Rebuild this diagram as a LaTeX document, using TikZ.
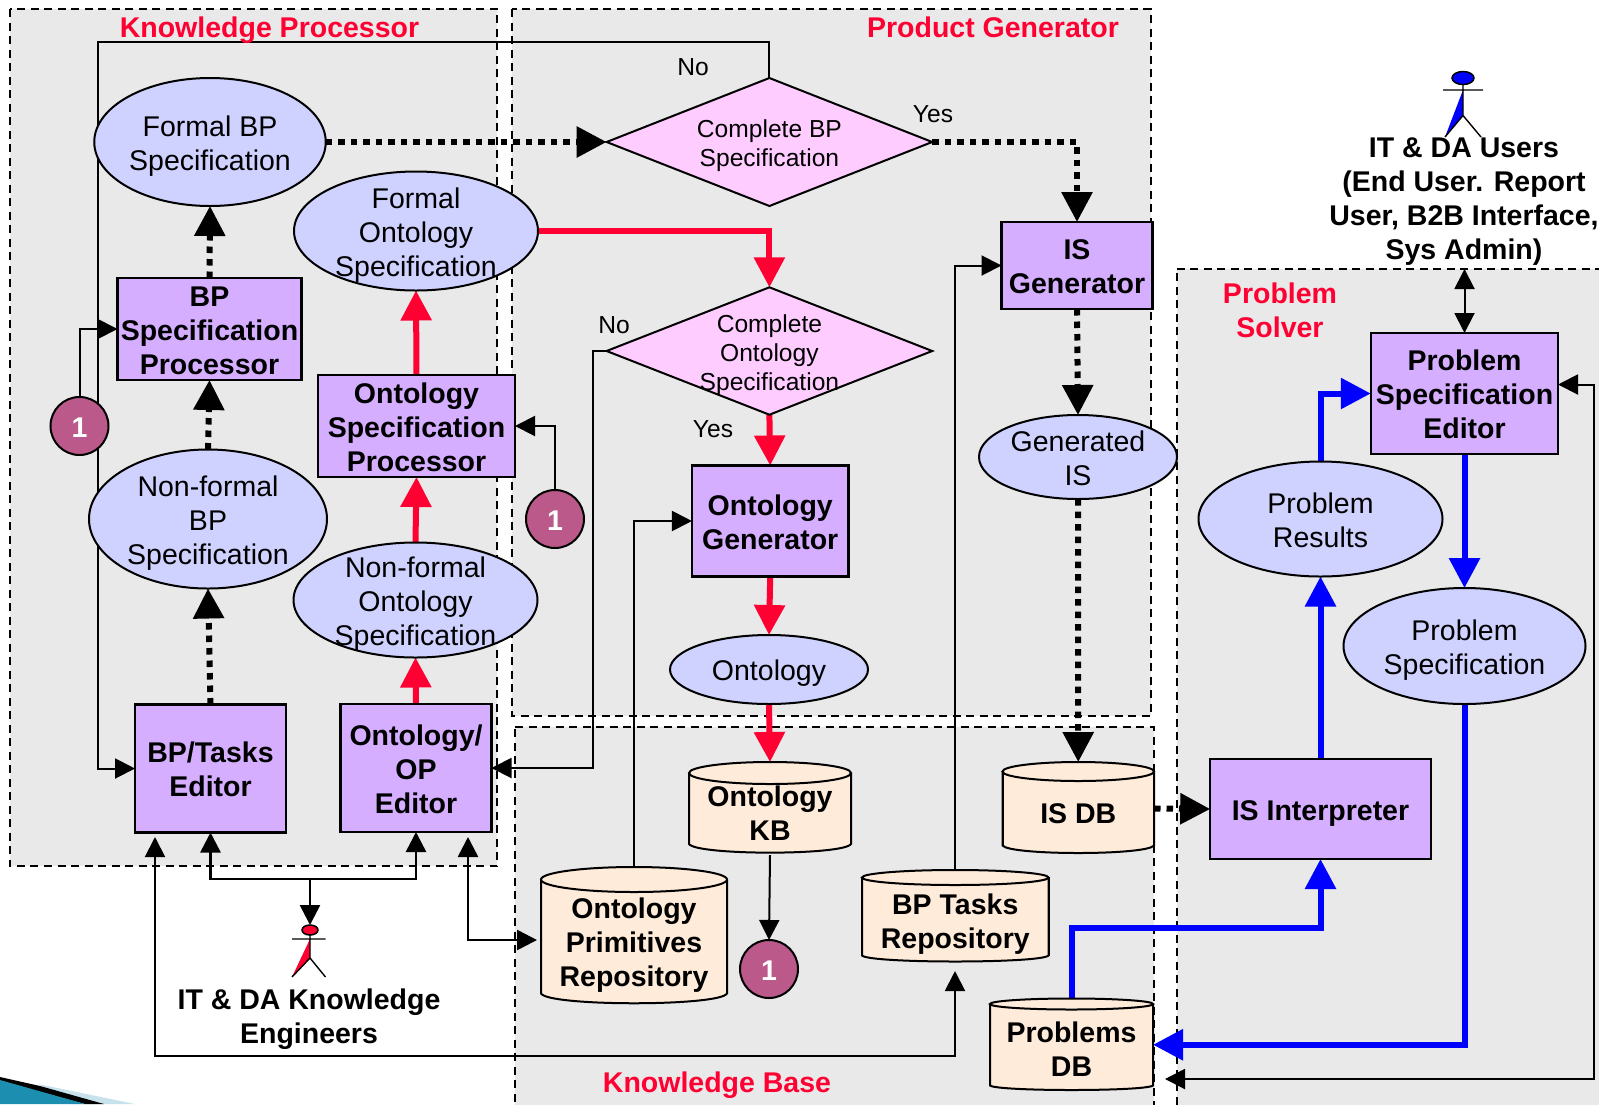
\documentclass[tikz,border=0pt]{standalone}
\usepackage{fontspec}
\setmainfont{Liberation Sans}
\usetikzlibrary{shapes.geometric,arrows.meta}
\definecolor{panelgrey}{HTML}{E9E9E9}
\definecolor{ellfill}{HTML}{CFD2FF}
\definecolor{procfill}{HTML}{D5AEFF}
\definecolor{decfill}{HTML}{FFCCFF}
\definecolor{dbfill}{HTML}{FFEBD9}
\definecolor{refcol}{HTML}{BB5A8A}
\definecolor{redc}{HTML}{FF0033}
\definecolor{bluec}{HTML}{0000FF}
\definecolor{teal1}{HTML}{1C8FB0}
\definecolor{pale1}{HTML}{C8E2EC}
\pgfdeclarelayer{panels}
\pgfdeclarelayer{conns}
\pgfsetlayers{panels,conns,main}
\newcommand{\tx}[1]{\smash{\makebox[0pt]{\raisebox{-11pt}{\begin{tabular}{@{}c@{}}#1\end{tabular}}}}}
\newcommand{\ty}[1]{\raisebox{1pt}{\tx{#1}}}
\newcommand{\regf}{\fontsize{28.5}{34}\selectfont}
\newcommand{\bldf}{\fontsize{28.5}{34}\selectfont\bfseries}
\newcommand{\smlf}{\fontsize{24.6}{29}\selectfont}
% name, x0, y0, x1, y1, ry, text
\newcommand{\dbcyl}[7]{%
  \path[draw=black,fill=dbfill,line width=2pt]
    (#2,#3+#6) -- (#2,#5-#6) .. controls (#2+8,#5+0.5) and (#4-8,#5+0.5) .. (#4,#5-#6)
    -- (#4,#3+#6);
  \path[draw=black,fill=dbfill,line width=2pt]
    ({(#2+#4)/2},{#3+#6}) ellipse [x radius={(#4-#2)/2},y radius=#6];
  \path[draw=black,line width=2pt]
    (#2,#3+#6) -- (#2,#5-#6) (#4,#3+#6) -- (#4,#5-#6);
  \node[inner sep=0pt,outer sep=0pt,minimum width={(#4-#2)*1pt},minimum height={(#5-#3)*1pt},font=\bldf]
    (#1) at ({(#2+#4)/2},{(#3+#5)/2}) {\raisebox{-6pt}{\tx{#7}}};%
}
\tikzset{
  panelbox/.style={draw=black,fill=panelgrey,line width=2pt,dash pattern=on 8pt off 5.5pt},
  proc/.style={rectangle,draw=black,fill=procfill,line width=2.2pt,inner sep=0pt,outer sep=0pt,font=\bldf},
  spec/.style={ellipse,draw=black,fill=ellfill,line width=2pt,inner sep=0pt,outer sep=0pt,font=\regf},
  dec/.style={diamond,draw=black,fill=decfill,line width=2pt,inner sep=0pt,outer sep=0pt,font=\smlf},
  refc/.style={circle,draw=black,fill=refcol,line width=2pt,inner sep=0pt,outer sep=0pt,minimum size=58pt,text=white,font=\bldf},
  title/.style={text=redc,font=\bldf,inner sep=0pt},
  lab/.style={font=\bldf,inner sep=0pt},
  small/.style={font=\smlf,inner sep=0pt},
  thinc/.style={draw=black,line width=2pt},
  midc/.style={draw=black,line width=2.6pt},
  thintip/.style={-{Triangle[length=20pt,width=20pt]}},
  both/.style={{Triangle[length=20pt,width=20pt]}-{Triangle[length=20pt,width=20pt]}},
  dotc/.style={draw=black,line width=6pt,dash pattern=on 6.5pt off 6pt,-{Triangle[length=30pt,width=30pt]}},
  redl/.style={draw=redc,line width=6pt,-{Triangle[length=30pt,width=30pt]}},
  bluel/.style={draw=bluec,line width=6pt,-{Triangle[length=30pt,width=30pt]}},
}
\begin{document}
\begin{tikzpicture}[x=1pt,y=-1pt]
\useasboundingbox (0,0) rectangle (1599,1104);

\begin{pgfonlayer}{panels}
  \path[panelbox] (10,9) rectangle (497,866);
  \path[panelbox] (512,9) rectangle (1150.5,716);
  \path[panelbox] (515,727) -- (1153.5,727) -- (1153.5,1106) -- (515,1106) -- cycle;
  \path[panelbox] (1176.5,269) -- (1601,269) -- (1601,1106) -- (1176.5,1106) -- cycle;
  % corner swoosh
  \fill[pale1] (38,1084) -- (135,1104) -- (70,1104) -- cycle;
  \fill[black] (0,1077) -- (40,1086) -- (104,1104) -- (85,1104) -- (0,1081) -- cycle;
  \fill[teal1] (0,1080) -- (85,1104) -- (0,1104) -- cycle;
\end{pgfonlayer}

% Titles
\node[title] (tkp) at (269.5,30.5) {Knowledge Processor};
\node[title] (tpg) at (993,27.5) {Product Generator};
\node[title,align=center] (tps) at (1280,310) {Problem\\Solver};
\node[title] (tkb) at (717,1085.5) {Knowledge Base};

% Decisions
\node[dec,minimum width=325.6pt,minimum height=128pt] (dbp) at (769.4,142) {\ty{Complete BP\\Specification}};
\node[dec,minimum width=325.6pt,minimum height=127.4pt] (dont) at (769.4,351) {\ty{Complete\\Ontology\\Specification}};

% Specification ellipses
\node[spec,minimum width=231.5pt,minimum height=128pt] (fbp) at (210,142) {\tx{Formal BP\\Specification}};
\node[spec,minimum width=244pt,minimum height=119pt] (fon) at (416,231) {\tx{Formal\\Ontology\\Specification}};
\node[spec,minimum width=238pt,minimum height=139pt] (nfbp) at (208,519) {\tx{Non-formal\\BP\\Specification}};
\node[spec,minimum width=244pt,minimum height=115pt] (nfon) at (415.5,600) {\tx{Non-formal\\Ontology\\Specification}};
\node[spec,minimum width=198pt,minimum height=69pt] (onto) at (769,669.5) {\ty{Ontology}};
\node[spec,minimum width=198pt,minimum height=84pt] (gis) at (1078,457) {\ty{Generated\\IS}};
\node[spec,minimum width=244pt,minimum height=115pt] (pres) at (1320.5,519) {\tx{Problem\\Results}};
\node[spec,minimum width=242pt,minimum height=116pt] (pspec) at (1464.5,646) {\tx{Problem\\Specification}};

% Processes
\node[proc,minimum width=184pt,minimum height=102pt] (bpsp) at (209.5,329) {\tx{BP\\Specification\\Processor}};
\node[proc,minimum width=197pt,minimum height=102pt] (osp) at (416.5,426) {\tx{Ontology\\Specification\\Processor}};
\node[proc,minimum width=151pt,minimum height=128pt] (bpted) at (210.5,768.5) {\ty{BP/Tasks\\Editor}};
\node[proc,minimum width=151pt,minimum height=128pt] (oped) at (416,768) {\ty{Ontology/\\OP\\Editor}};
\node[proc,minimum width=156.5pt,minimum height=111pt] (ogen) at (770.2,521) {\tx{Ontology\\Generator}};
\node[proc,minimum width=151pt,minimum height=87pt] (isgen) at (1077,265.5) {\ty{IS\\Generator}};
\node[proc,minimum width=187.5pt,minimum height=121pt] (pse) at (1464.5,393.5) {\ty{Problem\\Specification\\Editor}};
\node[proc,minimum width=220.6pt,minimum height=100pt] (isi) at (1320.5,809) {\ty{IS Interpreter}};

% Repositories
\dbcyl{kb}{689}{762}{851}{855}{11}{Ontology\\KB}
\dbcyl{opr}{541}{867}{727}{1006}{12.5}{\rule{0pt}{27pt}Ontology\\Primitives\\Repository}
\dbcyl{bpt}{862}{870}{1048.5}{963}{7.5}{BP Tasks\\Repository}
\dbcyl{isdb}{1002.5}{762}{1154}{855}{9.5}{IS DB}
\dbcyl{pdb}{990}{998.5}{1153}{1091}{5.5}{Problems\\DB}

% Reference circles
\node[refc] (r1) at (79.5,426) {\ty{1}};
\node[refc] (r2) at (555,519) {\ty{1}};
\node[refc] (r3) at (769,969) {\tx{1}};

% Actors
\node[ellipse,draw=black,fill=redc,line width=1.5pt,inner sep=0pt,outer sep=0pt,minimum width=16pt,minimum height=10pt] (ra) at (310,930) {};
\fill[redc] (310,939) -- (292,977) -- (310,958) -- cycle;
\draw[black,line width=1.4pt] (ra.south) -- (310,958) -- (325.5,977) (310,958) -- (292,977) (292,939) -- (325.5,939);
\node[ellipse,draw=black,fill=bluec,line width=1.5pt,inner sep=0pt,outer sep=0pt,minimum width=22pt,minimum height=13pt] (ba) at (1463,78) {};
\fill[bluec] (1463,90) -- (1445,137) -- (1463,115.5) -- cycle;
\draw[black,line width=1.4pt] (ba.south) -- (1463,115.5) -- (1481,137) (1463,115.5) -- (1445,137) (1443,90) -- (1483,90);

% Actor labels
\node[lab,align=center] (eng) at (309,1019) {IT \& DA Knowledge\\Engineers};
\node[lab,align=center] (usr) at (1464,201.5) {IT \& DA Users\\(End User. Report\\User, B2B Interface,\\Sys Admin)};

% Yes / No
\node[small] (ln1) at (693,67) {No};
\node[small] (ly1) at (933,114) {Yes};
\node[small] (ln2) at (614,325) {No};
\node[small] (ly2) at (713,429.5) {Yes};

% Free connector ends
\coordinate (c1) at (98,41.5);
\coordinate (c2) at (593,351);
\coordinate (c3) at (1200,928.4);
\coordinate (e1) at (1558,384.5);
\coordinate (e2) at (1594,700);
\coordinate (e3) at (1165,1079);
\coordinate (u1) at (1464.5,269);
\coordinate (j1) at (310,879);
\coordinate (a1) at (468,837);
\coordinate (a2) at (537,940);
\coordinate (b1) at (155,837);
\coordinate (b2) at (500,1056);
\coordinate (b3) at (955,971);

\begin{pgfonlayer}{conns}
  % thin black
  \draw[thinc,thintip] (dbp.north) |- (c1) |- (bpted.west);
  \draw[thinc,thintip] (dont.west) -- (c2) |- (oped.east);
  \draw[thinc,thintip] (r1.north) |- (bpsp.west);
  \draw[thinc,thintip] (r2.north) |- (osp.east);
  \draw[thinc,thintip] (opr.north) |- (ogen.west);
  \draw[thinc,thintip] (bpt.north) |- (isgen.west);
  \draw[thinc,thintip] (kb.south) -- (r3.north);
  \draw[thinc,both] (e1) -| (e2) |- (e3);
  \draw[thinc,both] (u1) -- (pse.north);
  \draw[midc,thintip] (j1) -- (ra.north);
  \draw[midc,thintip] (j1) -| (bpted.south);
  \draw[midc,thintip] (j1) -| (oped.south);
  \draw[midc,both] (a1) |- (a2);
  \draw[thinc,both] (b1) |- (b2) -| (b3);
  % dotted
  \draw[dotc] (fbp.east) -- (dbp.west);
  \draw[dotc] (dbp.east) -| (isgen.north);
  \draw[dotc] (bpsp.north) -- (fbp.south);
  \draw[dotc] (nfbp.north) -- (bpsp.south);
  \draw[dotc] (bpted.north) -- (nfbp.south);
  \draw[dotc] (isgen.south) -- (gis.north);
  \draw[dotc] (gis.south) -- (isdb.north);
  \draw[dotc] (isdb.east) -- (isi.west);
  % red
  \draw[redl] (fon.east) -| (dont.north);
  \draw[redl] (dont.south) -- (ogen.north);
  \draw[redl] (ogen.south) -- (onto.north);
  \draw[redl] (onto.south) -- (kb.north);
  \draw[redl] (oped.north) -- (nfon.south);
  \draw[redl] (nfon.north) -- (osp.south);
  \draw[redl] (osp.north) -- (fon.south);
  % blue
  \draw[bluel] (isi.north) -- (pres.south);
  \draw[bluel] (pres.north) |- (pse.west);
  \draw[bluel] (pse.south) -- (pspec.north);
  \draw[bluel] (pspec.south) |- (pdb.east);
  \draw[bluel] (pdb.north) |- (c3) -| (isi.south);
\end{pgfonlayer}
\end{tikzpicture}
\end{document}
